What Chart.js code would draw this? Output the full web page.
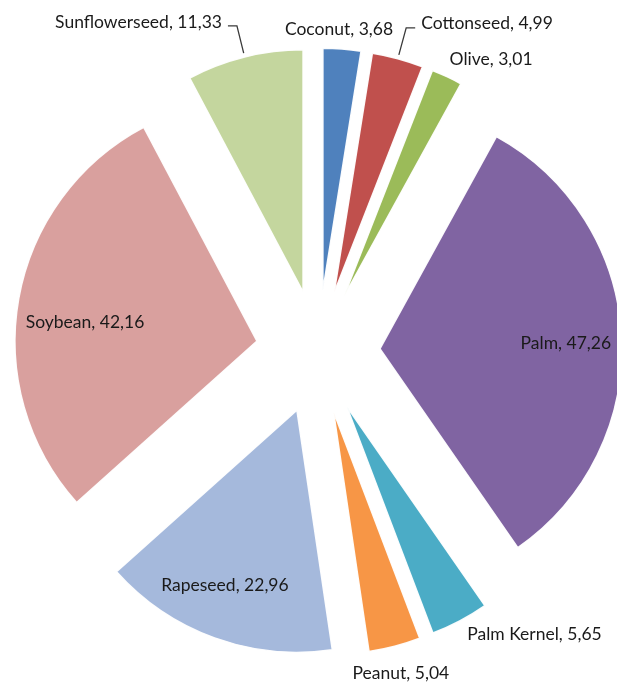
<!DOCTYPE html>
<html><head><meta charset="utf-8">
<script src="https://cdn.jsdelivr.net/npm/chart.js@4/dist/chart.umd.min.js"></script>
<style>html,body{margin:0;padding:0;background:#fff}#wrap{width:617px;height:682px;position:relative}</style>
</head><body><div id="wrap"><canvas id="c"></canvas></div>
<script>
const categories = ['Coconut','Cottonseed','Olive','Palm','Palm Kernel','Peanut','Rapeseed','Soybean','Sunflowerseed'];
const values = [3.68, 4.99, 3.01, 47.26, 5.65, 5.04, 22.96, 42.16, 11.33];
const colors = ['#4F81BD','#C0504D','#9BBB59','#8064A2','#4BACC6','#F79646','#A5B9DC','#D9A09E','#C4D69E'];

// label placement relative to each exploded slice (angle delta in degrees, distance in px)
const labelPlacement = [
  {type:'out', da:-1.0, d:261},
  {type:'leader'},
  {type:'out', da:6.8, d:278},
  {type:'in', da:1.2, d:186},
  {type:'out', da:-11.7, d:295},
  {type:'out', da:0.2, d:270},
  {type:'in', da:2.5, d:189},
  {type:'in', da:-3.8, d:173},
  {type:'leader'}
];

const EXPLODE = 62;
const FONT = '17.5px Lato, "Open Sans", sans-serif';
const fmt = v => v.toFixed(2).replace('.', ',');

const explodePlugin = {
  id: 'explode',
  beforeDatasetsDraw(chart) {
    const meta = chart.getDatasetMeta(0);
    const ca = chart.chartArea;
    const cx = (ca.left + ca.right) / 2, cy = (ca.top + ca.bottom) / 2;
    meta.data.forEach(arc => {
      const mid = (arc.startAngle + arc.endAngle) / 2;
      arc.x = cx + Math.cos(mid) * EXPLODE;
      arc.y = cy + Math.sin(mid) * EXPLODE;
    });
  },
  afterDatasetsDraw(chart) {
    const ctx = chart.ctx;
    const meta = chart.getDatasetMeta(0);
    ctx.save();
    ctx.font = FONT;
    ctx.fillStyle = '#1a1a1a';
    meta.data.forEach((arc, i) => {
      const text = categories[i] + ', ' + fmt(values[i]);
      const p = labelPlacement[i];
      const mid = (arc.startAngle + arc.endAngle) / 2;
      const r = arc.outerRadius;
      if (p.type === 'leader') {
        const sx = arc.x + Math.cos(mid) * (r + 4), sy = arc.y + Math.sin(mid) * (r + 4);
        const ex = arc.x + Math.cos(mid) * (r + 32), ey = arc.y + Math.sin(mid) * (r + 32);
        const dir = Math.cos(mid) >= 0 ? 1 : -1;
        const hx = ex + dir * 9;
        ctx.strokeStyle = '#3a3a3a';
        ctx.lineWidth = 1.3;
        ctx.beginPath();
        ctx.moveTo(sx, sy); ctx.lineTo(ex, ey); ctx.lineTo(hx, ey);
        ctx.stroke();
        ctx.textAlign = dir > 0 ? 'left' : 'right';
        ctx.textBaseline = 'middle';
        ctx.fillText(text, hx + dir * 6, ey - 4);
      } else {
        const a = mid + p.da * Math.PI / 180;
        ctx.textAlign = 'center';
        ctx.textBaseline = 'middle';
        ctx.fillText(text, arc.x + Math.cos(a) * p.d, arc.y + Math.sin(a) * p.d);
      }
    });
    ctx.restore();
  }
};

new Chart(document.getElementById('c'), {
  type: 'pie',
  data: {
    labels: categories,
    datasets: [{
      data: values,
      backgroundColor: colors,
      borderColor: 'rgba(255,255,255,0.95)',
      borderWidth: 1.5,
      radius: 242,
      clip: false
    }]
  },
  options: {
    responsive: true,
    maintainAspectRatio: false,
    animation: false,
    events: [],
    layout: {padding: {left: 19, right: 0, top: 22, bottom: 0}},
    plugins: {legend: {display: false}, tooltip: {enabled: false}}
  },
  plugins: [explodePlugin]
});
</script>
</body></html>
